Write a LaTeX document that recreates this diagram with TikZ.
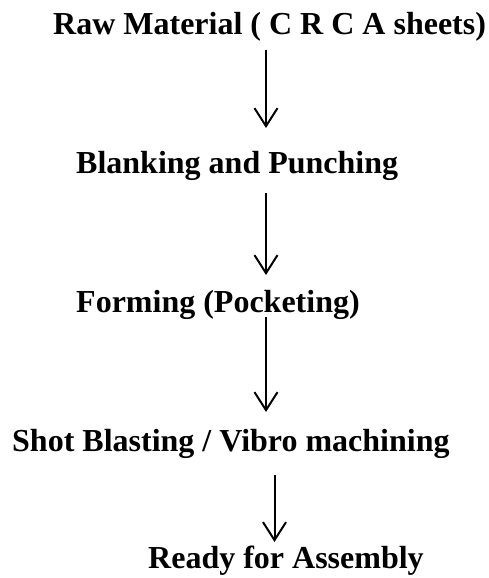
\documentclass[tikz,border=0pt]{standalone}
\usepackage{fontspec}
\setmainfont{Liberation Serif}
\usetikzlibrary{arrows.meta}
\begin{document}
\begin{tikzpicture}[x=1pt,y=-1pt,
  lbl/.style={font=\bfseries\fontsize{32}{36}\selectfont, inner sep=0pt, anchor=base west},
  arr/.style={line width=2pt, -{Straight Barb[length=18pt,width=23pt,line width=2pt]}}]
\useasboundingbox (0,0) rectangle (489,578);
\node[lbl] (t1) at (53,35) {Raw Material ( C R C A sheets)};
\node[lbl] (t2) at (76,173) {Blanking and Punching};
\node[lbl] (t3) at (76,312) {Forming (Pocketing)};
\node[lbl] (t4) at (12,451) {Shot Blasting / Vibro machining};
\node[lbl] (t5) at (148,568) {Ready for Assembly};
\coordinate (a1s) at (266,50);  \coordinate (a1e) at (266,128);
\coordinate (a2s) at (266,193); \coordinate (a2e) at (266,275);
\coordinate (a3s) at (266,317); \coordinate (a3e) at (266,412);
\coordinate (a4s) at (274.5,475); \coordinate (a4e) at (274.5,542);
\draw[arr] (a1s) -- (a1e);
\draw[arr] (a2s) -- (a2e);
\draw[arr] (a3s) -- (a3e);
\draw[arr] (a4s) -- (a4e);
\end{tikzpicture}
\end{document}
